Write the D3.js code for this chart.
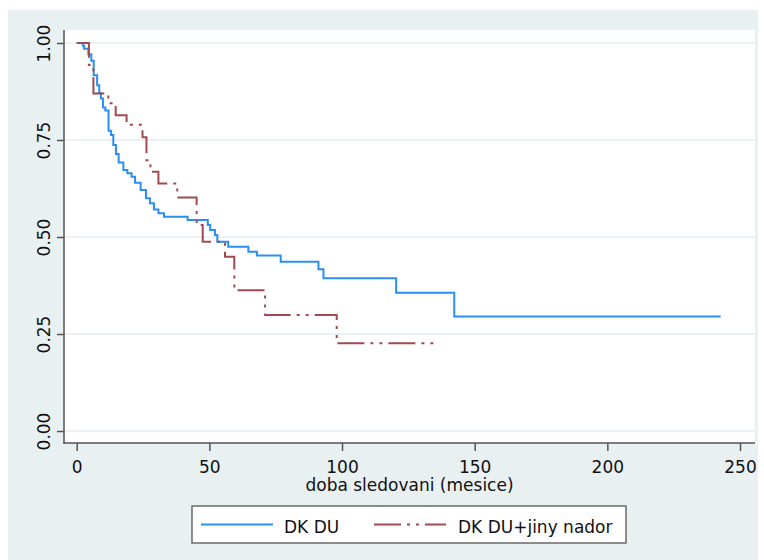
<!DOCTYPE html>
<html>
<head>
<meta charset="utf-8">
<script src="https://cdn.jsdelivr.net/npm/d3@7"></script>
<style>
    body { margin: 0; background: #fff; }
    text { font-family: "DejaVu Sans", sans-serif; fill: #111; }
</style>
</head>
<body>
<div id="chart"></div>
<script>
// Kaplan-Meier odhady
const blueTime = [0, 2.3, 2.8, 4.4, 5.5, 6.4, 7.7, 8.5, 9.1, 9.9, 10.8, 12.0, 12.9, 13.8, 14.8, 15.8,
    17.6, 19.1, 20.7, 22.0, 24.1, 26.1, 27.6, 29.1, 30.8, 32.9, 41.8, 49.4, 50.3, 52.1, 53.0, 57.1,
    64.7, 67.9, 76.9, 91.1, 93.0, 120.4, 142.3, 242.7];
const blueSurv = [1, 0.993, 0.985, 0.971, 0.954, 0.917, 0.891, 0.871, 0.857, 0.834, 0.826, 0.774, 0.763, 0.737, 0.714, 0.692,
    0.673, 0.664, 0.655, 0.640, 0.621, 0.600, 0.587, 0.571, 0.561, 0.552, 0.544, 0.531, 0.518, 0.505, 0.488, 0.475,
    0.462, 0.452, 0.436, 0.417, 0.394, 0.356, 0.295, 0.295];

const redTime = [0, 4.6, 6.3, 11.9, 14.7, 18.8, 24.8, 26.3, 27.8, 30.8, 37.9, 45.2, 47.5, 55.9, 59.4, 71.0, 98.0, 135.1];
const redSurv = [1, 0.943, 0.870, 0.845, 0.814, 0.789, 0.757, 0.698, 0.668, 0.638, 0.602, 0.531, 0.488, 0.449, 0.363, 0.299, 0.226, 0.226];

const xTicks = [0, 50, 100, 150, 200, 250];
const yTicks = [0, 0.25, 0.5, 0.75, 1];
const seriesNames = ['DK DU', 'DK DU+jiny nador'];
const seriesColors = ['#2b8ef5', '#a04a50'];
const xTitle = 'doba sledovani (mesice)';

const width = 764, height = 560;
const plot = { left: 64, right: 755, top: 30, bottom: 443 };

const svg = d3.select('#chart').append('svg')
    .attr('width', width)
    .attr('height', height);

// pozadi grafu
svg.append('rect')
    .attr('x', 8).attr('y', 10)
    .attr('width', 750).attr('height', 550)
    .attr('fill', '#e8f0f2');

svg.append('rect')
    .attr('x', plot.left).attr('y', plot.top)
    .attr('width', plot.right - plot.left).attr('height', plot.bottom - plot.top)
    .attr('fill', '#fff');

const x = d3.scaleLinear().domain([0, 250]).range([76.7, 740]);
const y = d3.scaleLinear().domain([0, 1]).range([431, 43]);

// mrizka
svg.append('g')
    .selectAll('line')
    .data(yTicks)
    .enter().append('line')
    .attr('x1', plot.left).attr('x2', plot.right)
    .attr('y1', d => y(d)).attr('y2', d => y(d))
    .attr('stroke', '#e5edf0')
    .attr('stroke-width', 1.5);

// osy
const yAxis = svg.append('g')
    .attr('transform', `translate(${plot.left},0)`)
    .call(d3.axisLeft(y).tickValues(yTicks).tickFormat(d3.format('.2f')).tickSize(7).tickSizeOuter(0));
yAxis.select('.domain').remove();
yAxis.selectAll('.tick line').attr('stroke', '#555').attr('stroke-width', 1.5);
yAxis.selectAll('.tick text')
    .attr('x', null).attr('dy', null)
    .attr('text-anchor', 'middle')
    .attr('transform', 'translate(-14,0) rotate(-90)')
    .style('font-size', '17px')
    .style('font-family', '"DejaVu Sans", sans-serif');

const xAxis = svg.append('g')
    .attr('transform', `translate(0,${plot.bottom})`)
    .call(d3.axisBottom(x).tickValues(xTicks).tickSize(8).tickSizeOuter(0));
xAxis.select('.domain').remove();
xAxis.selectAll('.tick line').attr('stroke', '#555').attr('stroke-width', 1.5);
xAxis.selectAll('.tick text')
    .attr('y', 29.5).attr('dy', null)
    .style('font-size', '17px')
    .style('font-family', '"DejaVu Sans", sans-serif');

svg.append('line')
    .attr('x1', plot.left).attr('x2', plot.left)
    .attr('y1', plot.top).attr('y2', plot.bottom + 0.75)
    .attr('stroke', '#555').attr('stroke-width', 1.5);
svg.append('line')
    .attr('x1', plot.left - 0.75).attr('x2', plot.right)
    .attr('y1', plot.bottom).attr('y2', plot.bottom)
    .attr('stroke', '#555').attr('stroke-width', 1.5);

svg.append('text')
    .attr('x', (plot.left + plot.right) / 2)
    .attr('y', 491)
    .attr('text-anchor', 'middle')
    .style('font-size', '17px')
    .text(xTitle);

// krivky preziti
const line = d3.line()
    .x(d => x(d[0]))
    .y(d => y(d[1]))
    .curve(d3.curveStepAfter);

const dashRed = '27,6,3,6,3,6';

svg.append('path')
    .datum(blueTime.map((t, i) => [t, blueSurv[i]]))
    .attr('d', line)
    .attr('fill', 'none')
    .attr('stroke', seriesColors[0])
    .attr('stroke-width', 2);

svg.append('path')
    .datum(redTime.map((t, i) => [t, redSurv[i]]))
    .attr('d', line)
    .attr('fill', 'none')
    .attr('stroke', seriesColors[1])
    .attr('stroke-width', 2)
    .attr('stroke-dasharray', dashRed);

// legenda
const legend = svg.append('g');
legend.append('rect')
    .attr('x', 192).attr('y', 506)
    .attr('width', 434).attr('height', 37)
    .attr('fill', '#fff')
    .attr('stroke', '#6a6a6a')
    .attr('stroke-width', 1.5);

const legendItems = [
    { x1: 201, tx: 284, dash: null },
    { x1: 374, tx: 458, dash: dashRed }
];
legendItems.forEach((item, i) => {
    legend.append('line')
        .attr('x1', item.x1).attr('x2', item.x1 + 72)
        .attr('y1', 524.5).attr('y2', 524.5)
        .attr('stroke', seriesColors[i])
        .attr('stroke-width', 2)
        .attr('stroke-dasharray', item.dash);
    legend.append('text')
        .attr('x', item.tx).attr('y', 533)
        .style('font-size', '17px')
        .text(seriesNames[i]);
});
</script>
</body>
</html>
